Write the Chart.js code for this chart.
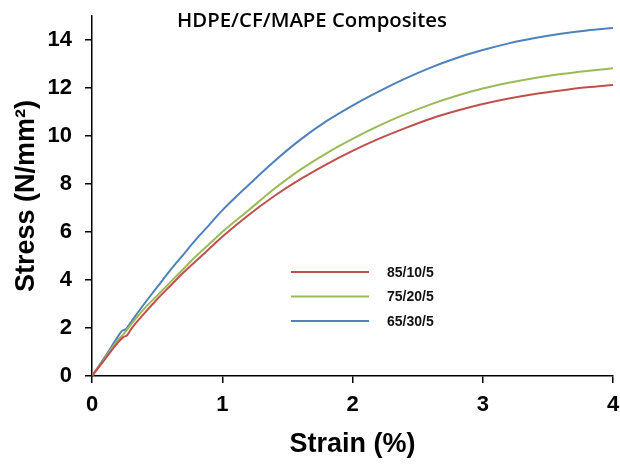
<!DOCTYPE html>
<html>
<head>
<meta charset="utf-8">
<script src="https://cdn.jsdelivr.net/npm/chart.js@4"></script>
<style>
html,body{margin:0;padding:0;background:#fff;}
#c{display:block;}
</style>
</head>
<body>
<canvas id="c" width="620" height="464"></canvas>
<script>
// ---- data ----
const seriesLabels = ['85/10/5', '75/20/5', '65/30/5'];
const seriesColors = ['#C0504D', '#9BBB59', '#4F81BD'];

const strain85 = [0, 0.1, 0.2, 0.24, 0.27, 0.3, 0.4, 0.5, 0.6, 0.7, 0.8, 0.9, 1.0, 1.2, 1.4, 1.6, 1.8, 2.0, 2.2, 2.4, 2.6, 2.8, 3.0, 3.2, 3.4, 3.6, 3.8, 4.0];
const stress85 = [0, 0.7, 1.4, 1.62, 1.7, 1.95, 2.6, 3.2, 3.75, 4.3, 4.8, 5.3, 5.8, 6.7, 7.5, 8.2, 8.82, 9.38, 9.88, 10.32, 10.72, 11.05, 11.33, 11.56, 11.75, 11.9, 12.03, 12.13];

const strain75 = [0, 0.1, 0.2, 0.25, 0.3, 0.4, 0.5, 0.6, 0.7, 0.8, 0.9, 1.0, 1.2, 1.4, 1.6, 1.8, 2.0, 2.2, 2.4, 2.6, 2.8, 3.0, 3.2, 3.4, 3.6, 3.8, 4.0];
const stress75 = [0, 0.75, 1.5, 1.8, 2.15, 2.8, 3.35, 3.9, 4.45, 5.0, 5.5, 6.0, 6.9, 7.8, 8.6, 9.28, 9.88, 10.42, 10.9, 11.32, 11.68, 11.98, 12.22, 12.42, 12.58, 12.71, 12.82];

const strain65 = [0, 0.1, 0.2, 0.23, 0.26, 0.3, 0.4, 0.5, 0.6, 0.7, 0.8, 0.9, 1.0, 1.2, 1.4, 1.6, 1.8, 2.0, 2.2, 2.4, 2.6, 2.8, 3.0, 3.2, 3.4, 3.6, 3.8, 4.0];
const stress65 = [0, 0.8, 1.65, 1.88, 1.95, 2.25, 3.0, 3.7, 4.4, 5.05, 5.7, 6.3, 6.9, 7.95, 8.95, 9.85, 10.62, 11.27, 11.85, 12.38, 12.85, 13.25, 13.58, 13.86, 14.08, 14.26, 14.4, 14.5];

const xTicks = [0, 1, 2, 3, 4];
const yTicks = [0, 2, 4, 6, 8, 10, 12, 14];

const chartTitle = 'HDPE/CF/MAPE Composites';
const xTitle = 'Strain (%)';
const yTitle = 'Stress (N/mm\u00B2)';

// ---- build datasets ----
function pts(xs, ys) { return xs.map((x, i) => ({x: x, y: ys[i]})); }
const allStrain = [strain85, strain75, strain65];
const allStress = [stress85, stress75, stress65];
const datasets = seriesLabels.map((lab, i) => ({
  label: lab,
  data: pts(allStrain[i], allStress[i]),
  borderColor: seriesColors[i],
  backgroundColor: seriesColors[i],
  borderWidth: 2,
  pointRadius: 0,
  cubicInterpolationMode: 'monotone',
  fill: false
}));

const FONT = '"Liberation Sans", Arial, sans-serif';

const overlay = {
  id: 'overlay',
  afterDraw(chart) {
    const ctx = chart.ctx;
    ctx.save();
    // title inside plot
    ctx.fillStyle = '#000';
    ctx.textAlign = 'center';
    ctx.textBaseline = 'middle';
    let size = 18;
    ctx.font = '600 ' + size + 'px "Open Sans", sans-serif';
    const w = ctx.measureText(chartTitle).width;
    size = size * 270 / w;
    ctx.font = '600 ' + size.toFixed(2) + 'px "Open Sans", sans-serif';
    ctx.fillText(chartTitle, 312, 21);
    // legend
    const ys = [272, 296.5, 321];
    chart.data.datasets.forEach((ds, i) => {
      ctx.strokeStyle = ds.borderColor;
      ctx.lineWidth = 2;
      ctx.beginPath();
      ctx.moveTo(291, ys[i]);
      ctx.lineTo(369, ys[i]);
      ctx.stroke();
      ctx.fillStyle = '#111';
      ctx.textAlign = 'left';
      ctx.font = 'bold 14px ' + FONT;
      ctx.fillText(ds.label, 387, ys[i] + 1);
    });
    ctx.restore();
  }
};

new Chart(document.getElementById('c'), {
  type: 'line',
  data: { datasets: datasets },
  plugins: [overlay],
  options: {
    responsive: false,
    animation: false,
    layout: { padding: { top: 16, right: 7, bottom: 0, left: 0 } },
    plugins: { legend: { display: false }, title: { display: false }, tooltip: { enabled: false } },
    scales: {
      x: {
        type: 'linear',
        min: xTicks[0],
        max: xTicks[xTicks.length - 1],
        afterFit(s) { s.height = 88; s.paddingLeft = 0; s.paddingRight = 0; },
        afterBuildTicks(s) { s.ticks = xTicks.map(v => ({value: v})); },
        border: { display: true, color: '#000', width: 1.5 },
        grid: { display: true, drawOnChartArea: false, drawTicks: true, tickLength: 7, color: '#000', lineWidth: 1.5 },
        ticks: { color: '#000', font: { family: FONT, size: 22, weight: 'bold' }, padding: 9, maxRotation: 0 },
        title: { display: true, text: xTitle, color: '#000', font: { family: FONT, size: 27, weight: 'bold' }, padding: { top: 0, bottom: 3 } }
      },
      y: {
        type: 'linear',
        min: 0,
        max: 15,
        afterFit(s) { s.width = 92; s.paddingTop = 0; s.paddingBottom = 0; },
        afterBuildTicks(s) { s.ticks = yTicks.map(v => ({value: v})); },
        border: { display: true, color: '#000', width: 1.5 },
        grid: { display: true, drawOnChartArea: false, drawTicks: true, tickLength: 7, color: '#000', lineWidth: 1.5 },
        ticks: { color: '#000', font: { family: FONT, size: 22, weight: 'bold' }, padding: 13 },
        title: { display: true, text: yTitle, color: '#000', font: { family: FONT, size: 27, weight: 'bold' }, padding: { top: 10, bottom: 0 } }
      }
    }
  }
});
</script>
</body>
</html>
